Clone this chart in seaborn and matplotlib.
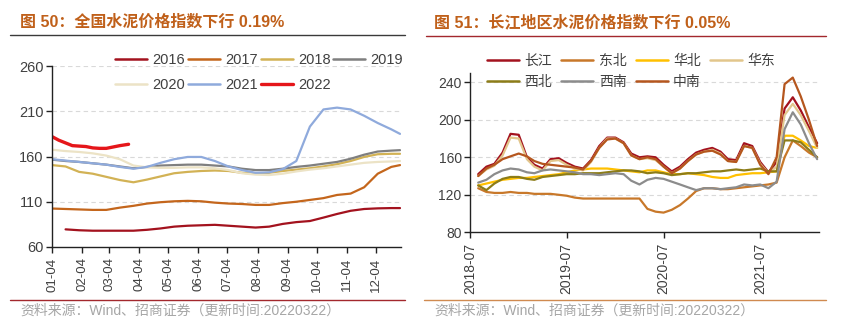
import numpy as np
import pandas as pd
import matplotlib
matplotlib.use('Agg')
import matplotlib.pyplot as plt
import seaborn as sns
from matplotlib.lines import Line2D

sns.set_theme(style='white')
plt.rcParams['font.family'] = ['Liberation Sans', 'Noto Sans CJK SC', 'DejaVu Sans']

nan = np.nan
# ---------------- left chart data (day of year) ----------------
day_grid = [3, 17, 31, 45, 59, 73, 87, 101, 115, 129, 143, 157, 171, 185, 199,
            213, 227, 241, 255, 269, 283, 297, 311, 325, 339, 353, 362]
idx_2016 = [nan, 79.5, 78.5, 78, 78, 78, 78, 79, 80.5, 82.5, 83.5, 84, 84.5, 83.5, 82.5,
            81.5, 82.5, 85.5, 87.5, 88.7, 92.5, 96.5, 100, 102, 102.7, 103, 103]
idx_2017 = [102.5, 102, 101.5, 101, 101, 103.5, 105.5, 108, 109.5, 110.5, 111, 110.5, 109, 108, 107.5,
            106.5, 106.5, 108.5, 110, 112, 114, 117.5, 119, 126, 141, 148.5, 150.5]
idx_2018 = [150.5, 149, 143, 141, 137.5, 134, 131.5, 134.5, 138, 141.5, 143, 144, 144.5, 144, 142,
            141, 142, 144, 145.5, 147, 149, 151.5, 155, 159.5, 162.5, 163, 163]
idx_2019 = [156.5, 155, 154, 152.5, 151, 149, 147, 148.5, 150, 150.5, 151, 151, 150, 149, 146.5,
            145, 145, 146.5, 148.5, 150, 152, 154, 157.5, 162, 165.5, 166.5, 167]
idx_2020 = [167.5, 166, 165, 163.5, 161, 157, 150, 148, 147.5, 147.5, 148, 148, 147, 145, 141.5,
            140, 139.5, 141, 143.5, 145.5, 147, 149, 151, 153, 154, 154.5, 155]
idx_2021 = [157, 155.5, 154, 152.5, 151, 148.5, 146.5, 148.5, 153, 157, 159.5, 159.5, 155, 149, 145,
            142, 142.5, 146, 155, 193, 212, 214, 212, 205, 197, 190, 185]
days_2022 = [3, 10, 17, 24, 31, 38, 45, 52, 59, 66, 73, 82]
idx_2022 = [182, 178, 175, 172, 171.5, 171, 169.5, 169, 169, 170.5, 172, 173.5]

year_labels = ['2016', '2017', '2018', '2019', '2020', '2021', '2022']
year_colors = ['#A3121E', '#C4661C', '#D2B255', '#7F7F7F', '#ECE3C6', '#8FAADC', '#E5161A']
xtick_days = [3, 34, 62, 93, 123, 154, 184, 215, 246, 276, 307, 337]
xtick_labels = ['01-04', '02-04', '03-04', '04-04', '05-04', '06-04',
                '07-04', '08-04', '09-04', '10-04', '11-04', '12-04']

# ---------------- right chart data (monthly) ----------------
month_dates = pd.date_range('2018-08-01', periods=43, freq='MS')
region_names = ['长江', '东北', '华北', '华东', '西北', '西南', '中南']
cj = [142, 150, 153, 165, 185, 184, 160, 152, 148, 158, 159, 154, 150, 148, 157,
      172, 181, 181, 176, 164, 160, 161, 160, 152, 145, 150, 158, 165, 168, 170,
      166, 158, 157, 175, 172, 155, 144, 155, 212, 224, 210, 192, 175]
db = [127, 123, 122, 122, 123, 122, 122, 121, 121, 121, 120, 119, 117, 116, 116,
      116, 116, 116, 116, 116, 116, 105, 102, 101, 104, 109, 116, 124, 127, 127,
      126, 126, 127, 128, 129, 130, 131, 133, 160, 178, 172, 165, 160]
hb = [130, 132, 134, 136, 137, 138, 138, 139, 140, 141, 142, 144, 146, 147, 148,
      148, 148, 147, 146, 145, 144, 146, 146, 144, 142, 142, 143, 142, 141, 139,
      138, 138, 141, 142, 143, 143, 144, 145, 183, 183, 178, 172, 170]
hd = [140, 147, 151, 162, 181, 180, 158, 150, 146, 156, 157, 152, 148, 146, 155,
      170, 180, 180, 175, 162, 158, 159, 157, 150, 143, 148, 156, 163, 166, 168,
      164, 156, 155, 172, 170, 153, 143, 150, 205, 217, 205, 188, 170]
xb = [130, 125, 132, 137, 139, 139, 137, 136, 139, 140, 141, 142, 142, 143, 143,
      143, 144, 145, 146, 146, 145, 143, 144, 143, 141, 142, 143, 143, 144, 145,
      145, 146, 147, 146, 147, 148, 145, 145, 178, 178, 176, 168, 160]
xn = [133, 136, 142, 146, 148, 147, 144, 143, 146, 147, 146, 145, 144, 142, 142,
      141, 142, 143, 142, 135, 131, 136, 138, 137, 134, 131, 128, 125, 127, 127,
      126, 127, 128, 131, 130, 131, 127, 134, 190, 208, 195, 175, 158]
zn = [140, 148, 152, 158, 161, 164, 161, 156, 153, 152, 151, 150, 149, 147, 156,
      170, 179, 180, 175, 162, 158, 160, 158, 150, 143, 148, 156, 163, 166, 167,
      163, 156, 155, 172, 170, 152, 142, 160, 238, 245, 225, 200, 172]
region_colors = ['#A3121E', '#C8782A', '#FFC000', '#E2C68C', '#8C7C18', '#8C8C8C', '#B5561E']
right_xticks = ['2018-07-01', '2019-07-01', '2020-07-01', '2021-07-01']

# ---------------- figure ----------------
W, H = 848, 332
fig = plt.figure(figsize=(W / 100, H / 100), dpi=100)
fig.patch.set_facecolor('white')

def fx(px):
    return px / W

def fy(py):
    return 1 - py / H

axL = fig.add_axes([fx(52), fy(247), fx(401) - fx(52), fy(66) - fy(247)])
axR = fig.add_axes([fx(470), fy(232.3), fx(819) - fx(470), fy(72.9) - fy(232.3)])

tick_color = '#404040'
for ax in (axL, axR):
    ax.set_facecolor('white')
    for s in ('top', 'right'):
        ax.spines[s].set_visible(False)
    for s in ('left', 'bottom'):
        ax.spines[s].set_color('#222222')
        ax.spines[s].set_linewidth(1.0)
    ax.tick_params(axis='both', which='both', direction='out', length=4, width=1,
                   color='#222222', labelcolor=tick_color, left=True, bottom=True)

# left lines
left_series = [idx_2016, idx_2017, idx_2018, idx_2019, idx_2020, idx_2021]
for lab, ser, col in zip(year_labels[:6], left_series, year_colors[:6]):
    sns.lineplot(x=day_grid, y=ser, ax=axL, color=col, linewidth=1.6, legend=False)
sns.lineplot(x=days_2022, y=idx_2022, ax=axL, color=year_colors[6], linewidth=2.4, legend=False)

axL.set_xlim(3, 363)
axL.set_ylim(60, 260)
axL.set_yticks([60, 110, 160, 210, 260])
axL.set_xticks(xtick_days)
axL.set_xticklabels(xtick_labels, rotation=90, fontsize=9.5)
axL.tick_params(axis='y', labelsize=10.5, pad=2)
for v in [110, 160, 210, 260]:
    axL.axhline(v, color='#D9D9D9', lw=0.8, ls=(0, (4, 3)), zorder=0)


def row_major(items, ncol):
    """Reorder items so a column-filled legend reads row by row."""
    nrow = int(np.ceil(len(items) / ncol))
    out = []
    for c in range(ncol):
        for r in range(nrow):
            i = r * ncol + c
            if i < len(items):
                out.append(items[i])
    return out


hL = [Line2D([], [], color=c, lw=(2.4 if l == '2022' else 1.8)) for l, c in zip(year_labels, year_colors)]
legL = fig.legend(row_major(hL, 4), row_major(year_labels, 4), loc='upper left',
                  bbox_to_anchor=(fx(115), fy(53)),
                  ncol=4, frameon=False, fontsize=10.5, handlelength=2.2, handletextpad=0.35,
                  columnspacing=0.2, labelspacing=0.75, borderpad=0, borderaxespad=0)
for t in legL.get_texts():
    t.set_color(tick_color)

# right lines
right_series = [cj, db, hb, hd, xb, xn, zn]
for lab, ser, col in zip(region_names, right_series, region_colors):
    sns.lineplot(x=month_dates, y=ser, ax=axR, color=col, linewidth=1.6, legend=False)

axR.set_xlim(pd.Timestamp('2018-07-01'), pd.Timestamp('2022-02-08'))
axR.set_ylim(80, 250)
axR.set_yticks([80, 120, 160, 200, 240])
axR.set_xticks(pd.to_datetime(right_xticks))
axR.set_xticklabels([d[:7] for d in right_xticks], rotation=90, fontsize=10)
axR.tick_params(axis='y', labelsize=10, pad=2)
axR.set_xlabel('')
for v in [120, 160, 200, 240]:
    axR.axhline(v, color='#D9D9D9', lw=0.8, ls=(0, (4, 3)), zorder=0)

hR = [Line2D([], [], color=c, lw=1.8) for c in region_colors]
legR = fig.legend(row_major(hR, 4), row_major(region_names, 4), loc='upper left',
                  bbox_to_anchor=(fx(487), fy(54)),
                  ncol=4, frameon=False, fontsize=10, handlelength=2.3, handletextpad=0.4,
                  columnspacing=0.65, labelspacing=0.5, borderpad=0, borderaxespad=0)
for t in legR.get_texts():
    t.set_color(tick_color)

# titles, rules and footers
title_col = '#C0601A'
fig.text(fx(20), fy(22), '图 50：全国水泥价格指数下行 0.19%', color=title_col, fontsize=11.5,
         fontweight='bold', va='center', ha='left')
fig.text(fx(434), fy(22), '图 51：长江地区水泥价格指数下行 0.05%', color=title_col, fontsize=11.5,
         fontweight='bold', va='center', ha='left')
fig.add_artist(Line2D([fx(10), fx(405)], [fy(35), fy(35)], color='#3A3A3A', lw=1.0))
fig.add_artist(Line2D([fx(426), fx(826)], [fy(35.5), fy(35.5)], color='#A3282D', lw=1.0))
fig.add_artist(Line2D([fx(10), fx(405)], [fy(300), fy(300)], color='#A3282D', lw=1.0))
fig.add_artist(Line2D([fx(424), fx(826)], [fy(300), fy(300)], color='#D08A50', lw=1.0))
foot = '资料来源：Wind、招商证券（更新时间:20220322）'
fig.text(fx(20), fy(311), foot, color='#A6A6A6', fontsize=10, va='center', ha='left')
fig.text(fx(434), fy(311), foot, color='#A6A6A6', fontsize=10, va='center', ha='left')

fig.savefig('out.png', dpi=100, facecolor='white')
